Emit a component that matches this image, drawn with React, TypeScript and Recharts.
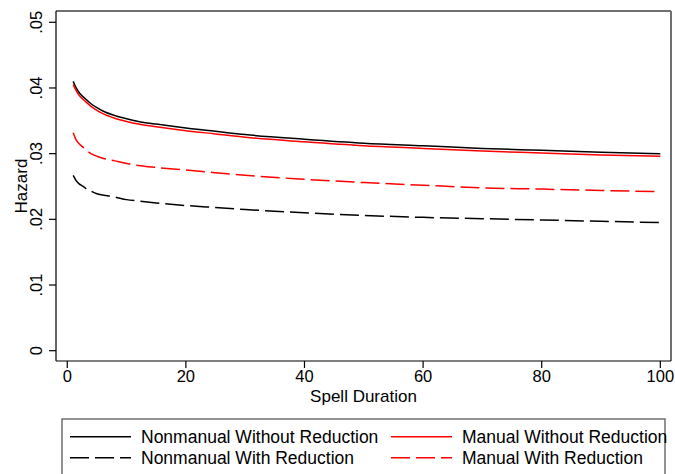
import { Line, LineChart, ReferenceLine, XAxis, YAxis } from "recharts";

const durations = [1, 1.5, 2, 2.5, 3, 4, 5, 6, 8, 10, 12, 15, 20, 25, 30, 40, 50, 60, 70, 80, 90, 100];
const nonmanualWithout = [
  0.041, 0.04, 0.0393, 0.0388, 0.0384, 0.0376, 0.037, 0.0365, 0.0358, 0.0353, 0.0349, 0.0345,
  0.0339, 0.0334, 0.0329, 0.0322, 0.0316, 0.0312, 0.0308, 0.0305, 0.0302, 0.03,
];
const manualWithout = [
  0.0405, 0.0396, 0.0389, 0.0384, 0.038, 0.0372, 0.0366, 0.0361, 0.0354, 0.0349, 0.0345, 0.0341,
  0.0335, 0.033, 0.0325, 0.0318, 0.0312, 0.0308, 0.0304, 0.0301, 0.0298, 0.0296,
];
const manualWith = [
  0.0332, 0.0321, 0.0315, 0.0311, 0.0307, 0.03, 0.0296, 0.0293, 0.0289, 0.0285, 0.0282, 0.0279,
  0.0275, 0.0271, 0.0267, 0.0261, 0.0256, 0.0252, 0.0248, 0.0246, 0.0244, 0.0242,
];
const nonmanualWith = [
  0.0267, 0.0259, 0.0254, 0.0251, 0.0248, 0.0243, 0.0239, 0.0237, 0.0234, 0.023, 0.0228, 0.0225,
  0.0221, 0.0218, 0.0215, 0.021, 0.0206, 0.0203, 0.0201, 0.0199, 0.0197, 0.0195,
];
const xTicks = [0, 20, 40, 60, 80, 100];
const yTicks = [0, 0.01, 0.02, 0.03, 0.04, 0.05];

const FONT = '"Liberation Sans", Arial, sans-serif';
const X_MIN = -1.9;
const X_MAX = 101.8;
const Y_MIN = -0.00157;
const Y_MAX = 0.05172;
const FRAME = "#707070";
const DASH = "19 6";

const rows = durations.map((d, i) => ({
  duration: d,
  nw: nonmanualWithout[i],
  mw: manualWithout[i],
  nr: nonmanualWith[i],
  mr: manualWith[i],
}));

function fmtHazard(v: number) {
  return v === 0 ? "0" : v.toFixed(2).replace(/^0/, "");
}

function YTick(props: any) {
  const { y, payload } = props;
  return (
    <text
      x={42}
      y={y}
      transform={`rotate(-90, 42, ${y})`}
      textAnchor="middle"
      fontSize={16.5}
      fontFamily={FONT}
      fill="#000"
    >
      {fmtHazard(payload.value)}
    </text>
  );
}

const legendItems = [
  { label: "Nonmanual Without Reduction", color: "#000", dash: undefined, col: 0, row: 0 },
  { label: "Manual Without Reduction", color: "#ff0000", dash: undefined, col: 1, row: 0 },
  { label: "Nonmanual With Reduction", color: "#000", dash: DASH, col: 0, row: 1 },
  { label: "Manual With Reduction", color: "#ff0000", dash: DASH, col: 1, row: 1 },
];

function LegendBox() {
  const colX = [8, 329];
  const rowY = [17.7, 38.7];
  return (
    <svg
      width={675}
      height={474}
      style={{ position: "absolute", left: 0, top: 0, pointerEvents: "none" }}
    >
      <rect x={62} y={419} width={603} height={70} fill="#fff" stroke={FRAME} strokeWidth={1.5} />
      {legendItems.map((it) => {
        const x = 62 + colX[it.col];
        const y = 419 + rowY[it.row];
        return (
          <g key={it.label}>
            <line
              x1={x}
              x2={x + 61}
              y1={y}
              y2={y}
              stroke={it.color}
              strokeWidth={1.5}
              strokeDasharray={it.dash}
            />
            <text x={x + 71} y={y + 6} fontSize={17.5} fontFamily={FONT} fill="#000">
              {it.label}
            </text>
          </g>
        );
      })}
    </svg>
  );
}

export default function App() {
  return (
    <div style={{ position: "relative", width: 675, height: 474, background: "#fff" }}>
      <style>{`body{margin:0}`}</style>
      <LineChart
        width={675}
        height={474}
        data={rows}
        margin={{ top: 11, right: 4, left: 0, bottom: 0 }}
      >
        <XAxis
          dataKey="duration"
          type="number"
          domain={[X_MIN, X_MAX]}
          ticks={xTicks}
          height={113}
          tickSize={7}
          axisLine={{ stroke: "#000", strokeWidth: 1.2 }}
          tickLine={{ stroke: "#000", strokeWidth: 1.2 }}
          tick={{ fontSize: 16.5, fontFamily: FONT, fill: "#000" }}
          label={{
            value: "Spell Duration",
            position: "insideTop",
            offset: 29,
            fontSize: 17,
            fontFamily: FONT,
            fill: "#000",
          }}
        />
        <YAxis
          type="number"
          domain={[Y_MIN, Y_MAX]}
          ticks={yTicks}
          width={56}
          tickSize={7}
          axisLine={{ stroke: "#000", strokeWidth: 1.2 }}
          tickLine={{ stroke: "#000", strokeWidth: 1.2 }}
          tick={<YTick />}
          label={({ viewBox }: any) => {
            const cy = viewBox.y + viewBox.height / 2;
            return (
              <text
                x={26.5}
                y={cy}
                transform={`rotate(-90, 26.5, ${cy})`}
                textAnchor="middle"
                fontSize={17}
                fontFamily={FONT}
                fill="#000"
              >
                Hazard
              </text>
            );
          }}
        />
        <ReferenceLine y={Y_MAX} stroke={FRAME} strokeWidth={2} />
        <ReferenceLine x={X_MAX} stroke={FRAME} strokeWidth={2} />
        <Line type="monotone" dataKey="nw" stroke="#000" strokeWidth={1.5} dot={false} isAnimationActive={false} />
        <Line type="monotone" dataKey="mw" stroke="#ff0000" strokeWidth={1.5} dot={false} isAnimationActive={false} />
        <Line type="monotone" dataKey="mr" stroke="#ff0000" strokeWidth={1.5} strokeDasharray={DASH} dot={false} isAnimationActive={false} />
        <Line type="monotone" dataKey="nr" stroke="#000" strokeWidth={1.5} strokeDasharray={DASH} dot={false} isAnimationActive={false} />
      </LineChart>
      <LegendBox />
    </div>
  );
}
